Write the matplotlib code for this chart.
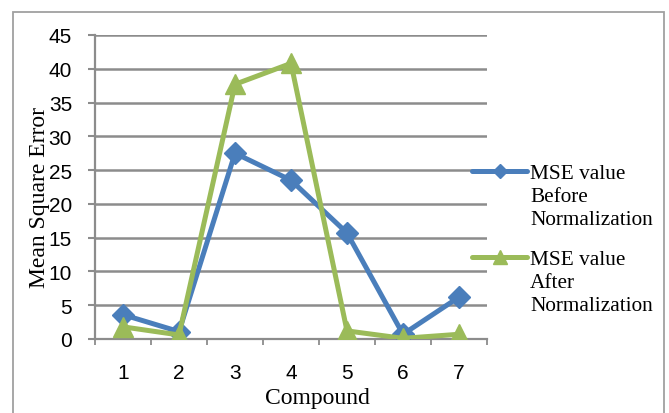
import matplotlib
matplotlib.use("Agg")
import matplotlib.pyplot as plt
from matplotlib.lines import Line2D
from matplotlib.patches import Rectangle

compounds = ["1", "2", "3", "4", "5", "6", "7"]
mse_before = [3.6, 1.1, 27.5, 23.5, 15.7, 0.7, 6.2]
mse_after = [1.8, 0.6, 37.7, 40.8, 1.2, 0.1, 0.7]
series_labels = ["MSE value\nBefore\nNormalization", "MSE value\nAfter\nNormalization"]
yticks = [0, 5, 10, 15, 20, 25, 30, 35, 40, 45]

blue = "#4a7ebb"
green = "#9bbb59"
grid_c = "#8c8c8c"

W, H = 669, 414
fig = plt.figure(figsize=(W / 100, H / 100), dpi=100)
fig.patch.set_facecolor("white")

# outer chart border
fig.add_artist(Rectangle((13 / W, -0.05), (664 - 13) / W, 1.05 - 13 / H,
                         transform=fig.transFigure, fill=False,
                         edgecolor="#a0a0a0", linewidth=1.3))

ax = fig.add_axes([95 / W, 1 - 340 / H, (487 - 95) / W, (340 - 36) / H])
x = list(range(1, len(compounds) + 1))

ax.plot(x, mse_before, color=blue, lw=3.6, marker="D", ms=11, zorder=3,
        solid_capstyle="round", solid_joinstyle="round")
ax.plot(x, mse_after, color=green, lw=3.6, marker="^", ms=15, zorder=4,
        solid_capstyle="round", solid_joinstyle="round")

ax.set_xlim(0.5, len(compounds) + 0.5)
ax.set_ylim(0, 45)
ax.set_yticks(yticks)
ax.set_yticklabels([str(v) for v in yticks], fontfamily="Liberation Sans", fontsize=15)
ax.set_xticks(x)
ax.set_xticklabels(compounds, fontfamily="Liberation Sans", fontsize=15)
ax.set_xticks([i + 0.5 for i in range(0, len(compounds) + 1)], minor=True)
ax.tick_params(axis="x", which="major", length=0, pad=17)
ax.tick_params(axis="x", which="minor", length=4.3, width=1.3, color=grid_c)
ax.tick_params(axis="y", length=5, width=1.5, color=grid_c, pad=11.5)

ax.yaxis.grid(True, color=grid_c, lw=1.8)
ax.set_axisbelow(True)
for s in ["top", "right"]:
    ax.spines[s].set_visible(False)
for s in ["left", "bottom"]:
    ax.spines[s].set_color(grid_c)
    ax.spines[s].set_linewidth(1.6)

ax.set_ylabel("Mean Square Error", fontfamily="Liberation Serif", fontsize=17)
ax.yaxis.label.set_va("center")
ax.yaxis.set_label_coords((39 - 95) / (487 - 95), 0.5 - (198 - 188) / (340 - 36))
ax.set_xlabel("Compound", fontfamily="Liberation Serif", fontsize=17)
ax.xaxis.set_label_coords((317 - 95) / (487 - 95), -(399 - 340) / (340 - 36))
ax.xaxis.label.set_va("center")

# legend drawn manually
for lab, col, mk, ms, ly in [(series_labels[0], blue, "D", 7, 172),
                             (series_labels[1], green, "^", 10, 258)]:
    fig.add_artist(Line2D([472 / W, 527 / W], [1 - ly / H, 1 - ly / H],
                          transform=fig.transFigure, color=col, lw=3.6,
                          solid_capstyle="round"))
    fig.add_artist(Line2D([499.5 / W], [1 - ly / H], transform=fig.transFigure,
                          color=col, marker=mk, ms=ms, lw=0))
    fig.text(530 / W, 1 - (ly - 7) / H, lab, fontfamily="Liberation Serif",
             fontsize=15.3, va="top", ha="left", linespacing=1.3)

fig.savefig("out.png", dpi=100)
